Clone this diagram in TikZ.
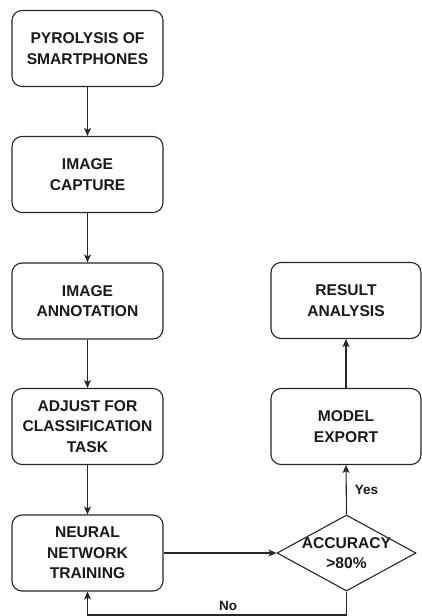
\documentclass[tikz,border=0pt]{standalone}
\usepackage{fontspec}
\setmainfont{Liberation Sans}
\usetikzlibrary{shapes.geometric,arrows.meta}
\tikzset{
  box/.style={draw=black!85, line width=1.1pt, rounded corners=10pt, minimum width=151pt, minimum height=76pt,
    align=center, inner sep=0pt, font=\bfseries\fontsize{15.6}{20.5}\selectfont, text=black!90},
  dec/.style={draw=black!85, line width=1.1pt, diamond, minimum width=139pt, minimum height=76pt, inner sep=0pt},
  dectext/.style={align=center, inner sep=0pt, font=\bfseries\fontsize{15.6}{20.5}\selectfont, text=black!90},
  conn/.style={draw=black!85, line width=1.1pt, -{Stealth[length=8pt,width=7pt,inset=2pt]}},
  lbl/.style={inner sep=0pt, font=\bfseries\fontsize{13.5}{16}\selectfont, text=black!90}
}
\begin{document}
\begin{tikzpicture}[x=1pt,y=-1pt]
\useasboundingbox (0,0) rectangle (422,616);
\node[box] (p1) at (87.5,48.5) {PYROLYSIS OF\\SMARTPHONES};
\node[box] (p2) at (87.5,174.5) {IMAGE\\CAPTURE};
\node[box] (p3) at (87.5,301) {IMAGE\\ANNOTATION};
\node[box] (p4) at (87.5,426.5) {ADJUST FOR\\CLASSIFICATION\\TASK};
\node[box] (p5) at (87.5,553) {NEURAL\\NETWORK\\TRAINING};
\node[box, minimum width=150pt] (ra) at (346,300.5) {RESULT\\ANALYSIS};
\node[box, minimum width=150pt] (me) at (346,426.5) {MODEL\\EXPORT};
\node[dec] (acc) at (346.5,553) {};
\node[dectext] (acctext) at (346.5,553) {ACCURACY\\>80\%};
\coordinate (nr) at (346.5,615);
\coordinate (nl) at (87.5,615);
\draw[conn] (p1) -- (p2);
\draw[conn] (p2) -- (p3);
\draw[conn] (p3) -- (p4);
\draw[conn] (p4) -- (p5);
\draw[conn] (p5) -- (acc);
\draw[conn] (acc.north) -- (me.south) node[lbl, midway, anchor=west, xshift=8pt] (yes) {Yes};
\draw[conn] (me) -- (ra);
\draw[conn] (acc.south) -- (nr) -- (nl) -- (p5.south);
\node[lbl] (no) at (228,606) {No};
\end{tikzpicture}
\end{document}
